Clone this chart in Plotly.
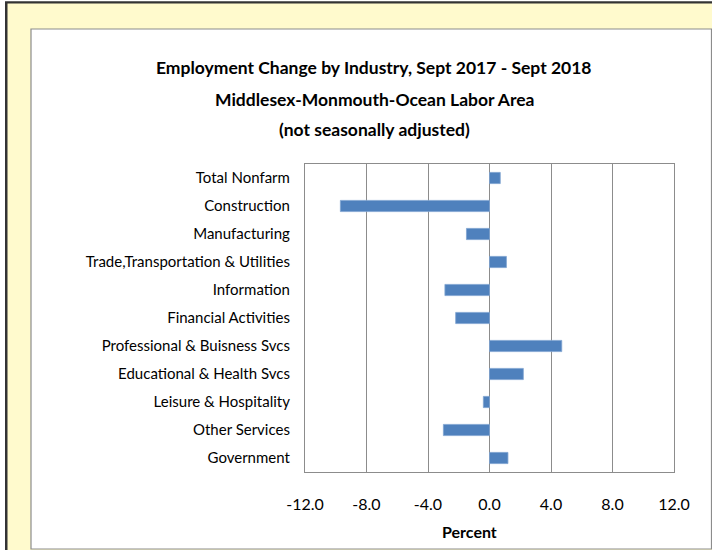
import plotly.graph_objects as go

# Employment change by industry (percent)
industries = [
    "Total Nonfarm",
    "Construction",
    "Manufacturing",
    "Trade,Transportation & Utilities",
    "Information",
    "Financial Activities",
    "Professional & Buisness Svcs",
    "Educational & Health Svcs",
    "Leisure & Hospitality",
    "Other Services",
    "Government",
]
pct_change = [0.7, -9.7, -1.5, 1.1, -2.9, -2.2, 4.7, 2.2, -0.4, -3.0, 1.2]
x_ticks = [-12, -8, -4, 0, 4, 8, 12]
x_tick_labels = ["-12.0", "-8.0", "-4.0", "0.0", "4.0", "8.0", "12.0"]

W, H = 712, 550
L, R, T, B = 305, 38, 164, 78
pw, ph = W - L - R, H - T - B


def fx(px):
    return (px - L) / pw


def fy(py):
    return (H - B - py) / ph


FONT = "Lato, Open Sans, sans-serif"

fig = go.Figure()
fig.add_trace(go.Bar(
    x=pct_change,
    y=industries,
    orientation="h",
    marker=dict(color="#4F81BD", line=dict(color="#7FA3D0", width=0.8)),
    width=0.4,
))

shapes = [
    # dark outer border
    dict(type="rect", xref="paper", yref="paper", layer="below",
         x0=fx(5), x1=fx(720), y0=fy(560), y1=fy(1.3),
         fillcolor="#333333", line=dict(width=0)),
    # yellow frame inside the dark border
    dict(type="rect", xref="paper", yref="paper", layer="below",
         x0=fx(7.5), x1=fx(720), y0=fy(560), y1=fy(3.5),
         fillcolor="#FFFACD", line=dict(width=0)),
    # white chart panel with gray border
    dict(type="rect", xref="paper", yref="paper", layer="below",
         x0=fx(31), x1=fx(711.5), y0=fy(549), y1=fy(29),
         fillcolor="white", line=dict(color="#8C8C8C", width=1.2)),
]

titles = [
    ("Employment Change by Industry, Sept 2017 - Sept 2018", 68),
    ("Middlesex-Monmouth-Ocean Labor Area", 100),
    ("(not seasonally adjusted)", 130),
]
annotations = [
    dict(text="<b>%s</b>" % t, xref="paper", yref="paper", x=fx(374), y=fy(py),
         xanchor="center", yanchor="middle", showarrow=False,
         font=dict(family=FONT, size=17.5, color="black"))
    for t, py in titles
]
annotations.append(dict(text="<b>Percent</b>", xref="paper", yref="paper",
                        x=fx(469), y=fy(531), xanchor="center", yanchor="middle",
                        showarrow=False, font=dict(family=FONT, size=16, color="black")))

fig.update_layout(
    width=W, height=H,
    margin=dict(l=L, r=R, t=T, b=B),
    paper_bgcolor="white",
    plot_bgcolor="white",
    showlegend=False,
    shapes=shapes,
    annotations=annotations,
    font=dict(family=FONT, size=16, color="black"),
)
fig.update_xaxes(
    range=[-12, 12], tickvals=x_ticks, ticktext=x_tick_labels,
    showgrid=True, gridcolor="#8C8C8C", gridwidth=1.2,
    zeroline=True, zerolinecolor="#8C8C8C", zerolinewidth=1.2,
    showline=True, linecolor="#8C8C8C", linewidth=1.2, mirror=True,
    ticks="", ticklabelstandoff=18,
    tickfont=dict(family=FONT, size=16),
)
fig.update_yaxes(
    autorange="reversed", showgrid=False,
    showline=True, linecolor="#8C8C8C", linewidth=1.2, mirror=True,
    ticks="", ticklabelstandoff=11,
    tickfont=dict(family=FONT, size=15),
)

fig.write_html("out.html", config={"displayModeBar": False},
               post_script="document.body.style.margin='0';")
